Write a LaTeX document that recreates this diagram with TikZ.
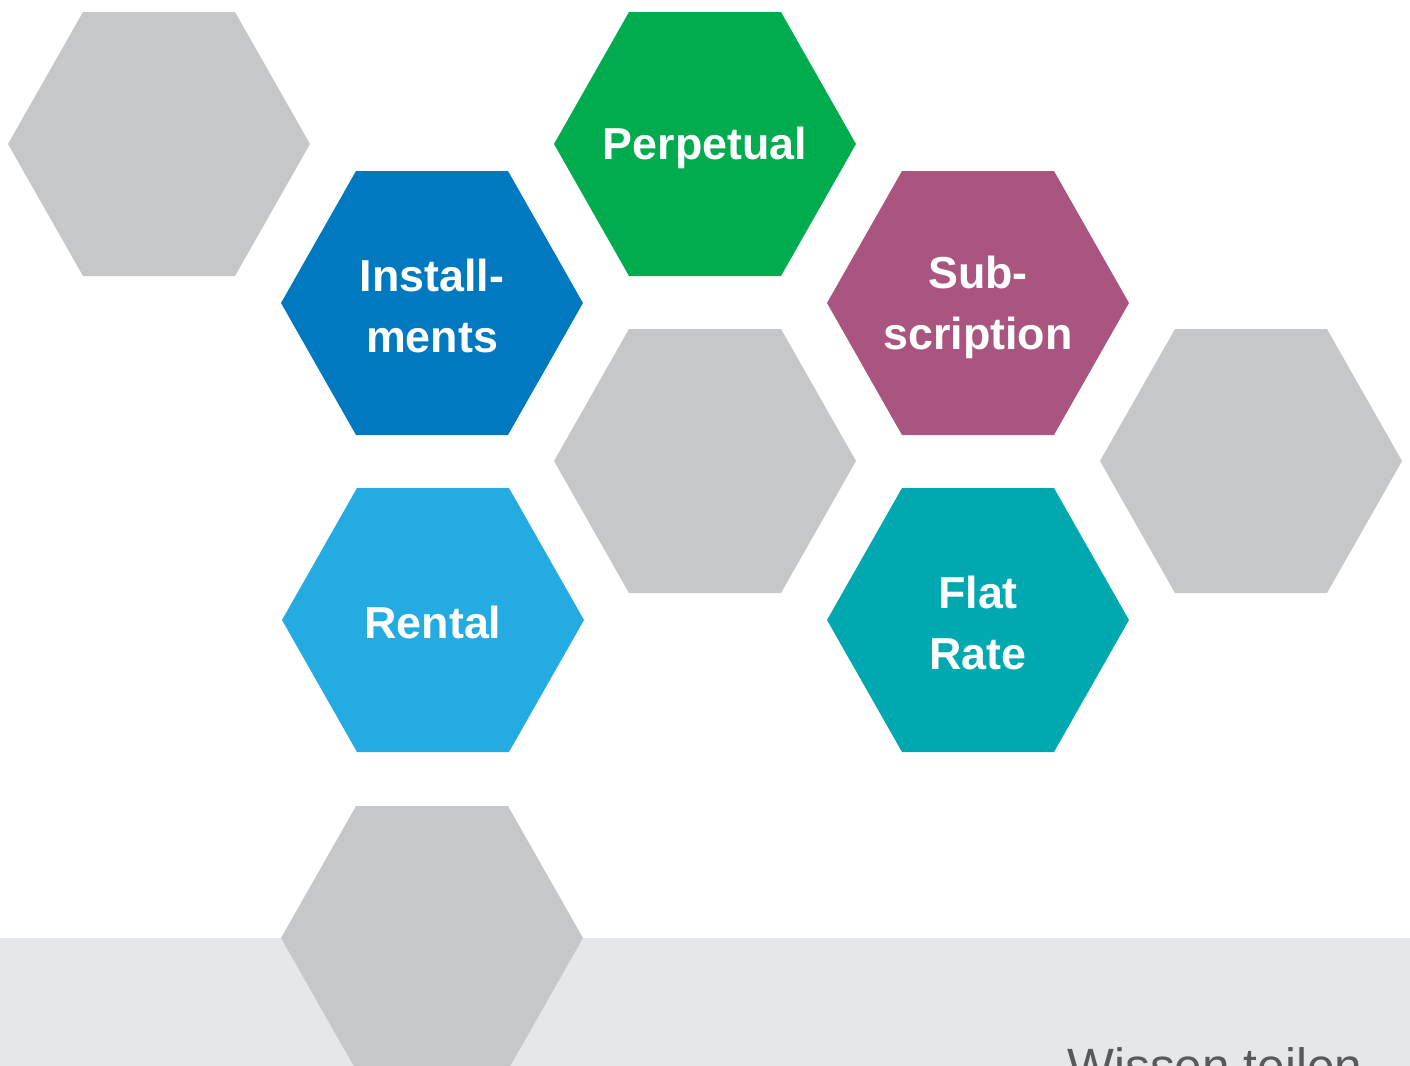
\documentclass[tikz,border=0pt]{standalone}
\usepackage{fontspec}
\setmainfont{Liberation Sans}
\definecolor{hexgray}{HTML}{C6C7C8}
\definecolor{instblue}{HTML}{0079C1}
\definecolor{perpgreen}{HTML}{00AC4E}
\definecolor{subpurple}{HTML}{AA5580}
\definecolor{rentblue}{HTML}{23ABE2}
\definecolor{flatteal}{HTML}{00A9B0}
\definecolor{bandgray}{HTML}{E6E7E8}
\definecolor{textgray}{HTML}{58595B}
\newcommand{\hexshape}[3]{%
  \fill[#3] (#1-151,#2) -- (#1-76,#2-132) -- (#1+76,#2-132) -- (#1+151,#2) -- (#1+76,#2+132) -- (#1-76,#2+132) -- cycle;}
\tikzset{hexlabel/.style={text=white,font=\fontsize{22.4pt}{30.5pt}\selectfont\bfseries,align=center,inner sep=0pt}}
\begin{document}
\begin{tikzpicture}[x=0.5pt,y=-0.5pt]
\useasboundingbox (0,0) rectangle (1410,1066);
\clip (0,0) rectangle (1410,1066);
\fill[bandgray] (0,938) rectangle (1410,1066);
\hexshape{159}{144}{hexgray}
\hexshape{432}{303}{instblue}
\hexshape{705}{144}{perpgreen}
\hexshape{978}{303}{subpurple}
\hexshape{705}{461}{hexgray}
\hexshape{1251}{461}{hexgray}
\hexshape{433}{620}{rentblue}
\hexshape{978}{620}{flatteal}
\hexshape{432}{938}{hexgray}
\node[hexlabel] (inst) at (432,306) {Install-\\ments};
\node[hexlabel] (perp) at (705,148) {Perpetual};
\node[hexlabel] (sub) at (978,307) {Sub-\\scription};
\node[hexlabel] (rent) at (433,622) {Rental};
\node[hexlabel] (flat) at (978,623) {Flat\\Rate};
\node[anchor=base west,inner sep=0pt,text=textgray,font=\fontsize{24.8pt}{30pt}\selectfont] (wt) at (1067,1083) {Wissen teilen};
\end{tikzpicture}
\end{document}
